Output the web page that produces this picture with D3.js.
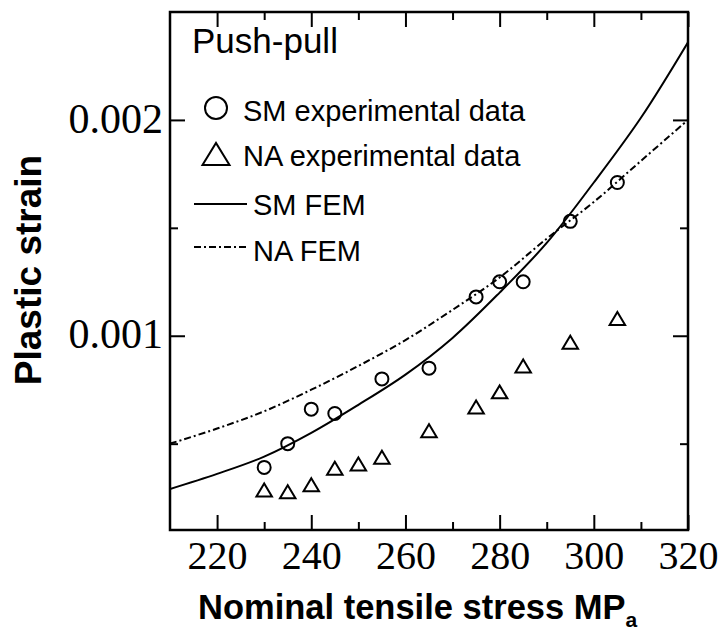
<!DOCTYPE html>
<html>
<head>
<meta charset="utf-8">
<script src="https://cdn.jsdelivr.net/npm/d3@7/dist/d3.min.js"></script>
<style>
  html, body { margin: 0; padding: 0; background: #fff; }
  svg { display: block; }
  .serif { font-family: "Liberation Serif", "Times New Roman", serif; }
  .sans { font-family: "Liberation Sans", Arial, sans-serif; }
</style>
</head>
<body>
<svg id="chart" width="724" height="636"></svg>
<script>
// Stress grid used for the FEM curves (MPa)
const femStress = [210, 220, 230, 240, 250, 260, 270, 280, 290, 300, 310, 320];
// FEM plastic strain, SM and NA
const smFem = [0.00029, 0.00036, 0.00044, 0.00055, 0.00068, 0.00082, 0.00099, 0.0012, 0.00143, 0.00171, 0.00201, 0.00236];
const naFem = [0.0005, 0.00057, 0.00065, 0.00075, 0.00086, 0.00098, 0.00112, 0.00127, 0.00145, 0.00162, 0.00181, 0.002];

// Experimental points
const smStress = [230, 235, 240, 245, 255, 265, 275, 280, 285, 295, 305];
const smExp = [0.00039, 0.0005, 0.00066, 0.00064, 0.0008, 0.00085, 0.00118, 0.00125, 0.00125, 0.00153, 0.00171];
const naStress = [230, 235, 240, 245, 250, 255, 265, 275, 280, 285, 295, 305];
const naExp = [0.000285, 0.000277, 0.00031, 0.000386, 0.000406, 0.000437, 0.00056, 0.00067, 0.00074, 0.00086, 0.00097, 0.00108];

// Axis ticks
const xMajor = [220, 240, 260, 280, 300, 320];
const xMinor = [230, 250, 270, 290, 310];
const xLabels = ["220", "240", "260", "280", "300", "320"];
const yMajor = [0.001, 0.002];
const yMinor = [0.0005, 0.0015];
const yLabels = ["0.001", "0.002"];

const legendItems = ["SM experimental data", "NA experimental data", "SM FEM", "NA FEM"];

const svg = d3.select("#chart");
const L = 170, R = 688, T = 12, B = 530;

const x = d3.scaleLinear().domain([210, 320]).range([L, R]);
const y = d3.scaleLinear().domain([0.0001, 0.0025]).range([B, T]);

const big = 15, small = 8;

function styleAxis(g) {
  g.select(".domain").remove();
  g.selectAll(".tick line").attr("stroke", "#000").attr("stroke-width", 2);
}

// bottom axis with labels
const gB = svg.append("g").attr("transform", `translate(0,${B})`)
  .call(d3.axisBottom(x).tickValues(xMajor).tickSize(-big).tickPadding(0)
    .tickFormat((d, i) => xLabels[i]));
styleAxis(gB);
gB.selectAll(".tick text").attr("class", "serif").attr("font-size", 40)
  .attr("fill", "#000").attr("y", 39).attr("dy", null);
svg.append("g").attr("transform", `translate(0,${B})`)
  .call(d3.axisBottom(x).tickValues(xMinor).tickSize(-small).tickFormat(""))
  .call(styleAxis);

// top axis
svg.append("g").attr("transform", `translate(0,${T})`)
  .call(d3.axisTop(x).tickValues(xMajor).tickSize(-big).tickFormat(""))
  .call(styleAxis);
svg.append("g").attr("transform", `translate(0,${T})`)
  .call(d3.axisTop(x).tickValues(xMinor).tickSize(-small).tickFormat(""))
  .call(styleAxis);

// left axis with labels
const gL = svg.append("g").attr("transform", `translate(${L},0)`)
  .call(d3.axisLeft(y).tickValues(yMajor).tickSize(-big).tickPadding(7)
    .tickFormat((d, i) => yLabels[i]));
styleAxis(gL);
gL.selectAll(".tick text").attr("class", "serif").attr("font-size", 42)
  .attr("fill", "#000").attr("dy", "0.29em");
svg.append("g").attr("transform", `translate(${L},0)`)
  .call(d3.axisLeft(y).tickValues(yMinor).tickSize(-small).tickFormat(""))
  .call(styleAxis);

// right axis
svg.append("g").attr("transform", `translate(${R},0)`)
  .call(d3.axisRight(y).tickValues(yMajor).tickSize(-big).tickFormat(""))
  .call(styleAxis);
svg.append("g").attr("transform", `translate(${R},0)`)
  .call(d3.axisRight(y).tickValues(yMinor).tickSize(-small).tickFormat(""))
  .call(styleAxis);

// plot clip
svg.append("clipPath").attr("id", "plotClip")
  .append("rect").attr("x", L).attr("y", T).attr("width", R - L).attr("height", B - T);

const line = d3.line().x(d => x(d[0])).y(d => y(d[1])).curve(d3.curveCatmullRom.alpha(0.5));

const plot = svg.append("g").attr("clip-path", "url(#plotClip)");
plot.append("path").datum(femStress.map((s, i) => [s, naFem[i]]))
  .attr("d", line).attr("fill", "none").attr("stroke", "#000")
  .attr("stroke-width", 2).attr("stroke-dasharray", "7,3,2,3");
plot.append("path").datum(femStress.map((s, i) => [s, smFem[i]]))
  .attr("d", line).attr("fill", "none").attr("stroke", "#000").attr("stroke-width", 2);

// experimental markers
plot.selectAll("circle.sm").data(smStress.map((s, i) => [s, smExp[i]])).join("circle")
  .attr("class", "sm").attr("cx", d => x(d[0])).attr("cy", d => y(d[1])).attr("r", 6.5)
  .attr("fill", "none").attr("stroke", "#000").attr("stroke-width", 2);

function triPath(cx, cy, w, h) {
  return `M${cx - w / 2},${cy + h / 2}L${cx + w / 2},${cy + h / 2}L${cx},${cy - h / 2}Z`;
}
plot.selectAll("path.na").data(naStress.map((s, i) => [s, naExp[i]])).join("path")
  .attr("class", "na").attr("d", d => triPath(x(d[0]), y(d[1]), 15.5, 13))
  .attr("fill", "none").attr("stroke", "#000").attr("stroke-width", 2).attr("stroke-linejoin", "miter");

// frame
svg.append("rect").attr("x", L).attr("y", T).attr("width", R - L).attr("height", B - T)
  .attr("fill", "none").attr("stroke", "#000").attr("stroke-width", 2.5);

// legend
const lg = svg.append("g").attr("class", "sans");
lg.append("text").attr("x", 192).attr("y", 53).attr("font-size", 35).text("Push-pull");
lg.append("circle").attr("cx", 216).attr("cy", 108).attr("r", 11)
  .attr("fill", "none").attr("stroke", "#000").attr("stroke-width", 2);
lg.append("path").attr("d", triPath(216, 154, 27, 22))
  .attr("fill", "none").attr("stroke", "#000").attr("stroke-width", 2);
lg.append("line").attr("x1", 194).attr("x2", 247).attr("y1", 204).attr("y2", 204)
  .attr("stroke", "#000").attr("stroke-width", 2);
lg.append("line").attr("x1", 194).attr("x2", 247).attr("y1", 247).attr("y2", 247)
  .attr("stroke", "#000").attr("stroke-width", 2).attr("stroke-dasharray", "7,3,2,3");
const legPos = [[243, 121], [243, 166], [253, 215], [253, 261]];
legendItems.forEach((t, i) => {
  lg.append("text").attr("x", legPos[i][0]).attr("y", legPos[i][1]).attr("font-size", 29).text(t);
});

// axis titles
svg.append("text").attr("class", "sans").attr("font-weight", "bold").attr("font-size", 37)
  .attr("text-anchor", "middle").attr("transform", "translate(41,270) rotate(-90)")
  .text("Plastic strain");

const xt = svg.append("text").attr("class", "sans").attr("font-weight", "bold").attr("font-size", 34.5)
  .attr("x", 198).attr("y", 619);
xt.append("tspan").text("Nominal tensile stress MP");
xt.append("tspan").attr("font-size", 21).attr("dy", 8).text("a");
</script>
</body>
</html>
